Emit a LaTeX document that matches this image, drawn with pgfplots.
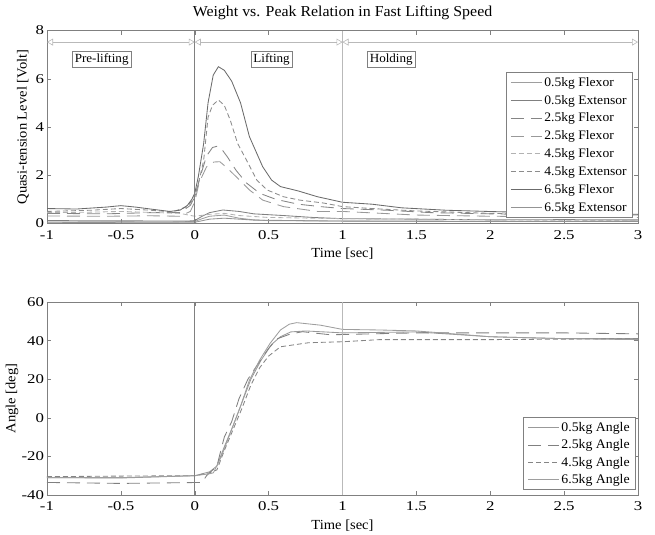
\documentclass[border=0pt]{standalone}
\usepackage{fontspec}
\setmainfont[FakeStretch=1.05]{Liberation Serif}
\newfontfamily\tickfont[FakeStretch=1.25]{Liberation Serif}
\usepackage{pgfplots}
\pgfplotsset{compat=1.18}
\usetikzlibrary{arrows.meta}
\definecolor{axc}{gray}{0.5}
\definecolor{c1}{gray}{0.62}
\definecolor{c2}{gray}{0.5}
\definecolor{c3}{gray}{0.52}
\definecolor{c4}{gray}{0.6}
\definecolor{c5}{gray}{0.7}
\definecolor{c6}{gray}{0.55}
\definecolor{c7}{gray}{0.42}
\definecolor{c8}{gray}{0.58}
\begin{document}
\begin{tikzpicture}
\pgfplotsset{
  every axis/.append style={
    scale only axis, width=591bp, height=193bp,
    xmin=-1, xmax=3,
    xtick={-1,-0.5,0,0.5,1,1.5,2,2.5,3},
    axis line style={axc, line width=0.6pt},
    tick style={axc, line width=0.5pt, major tick length=4bp},
    tick label style={font=\tickfont\fontsize{13.5}{15}\selectfont},
    /pgf/number format/assume math mode=true,
    xticklabel style={yshift=-3.5bp},
    yticklabel style={xshift=0.5bp},
    legend cell align=left,
    legend style={draw=axc, line width=0.6pt, inner xsep=4bp, inner ysep=3bp},
    legend image code/.code={\draw[##1] (0bp,0bp) -- (31bp,0bp);},
    every axis plot/.append style={line width=0.85pt, mark=none},
    xlabel={Time [sec]},
    every axis x label/.style={at={(axis description cs:0.5,-0.158)}, anchor=center, font=\fontsize{13.9}{16}\selectfont},
    every axis y label/.style={at={(axis description cs:-0.0406,0.5)}, anchor=center, rotate=90, font=\fontsize{13.9}{16}\selectfont},
  }
}
\begin{axis}[
  name=top,
  at={(0,271.5bp)},
  ymin=0, ymax=8, ytick={0,2,4,6,8},
  ylabel={Quasi-tension Level [Volt]},
  title={Weight vs. Peak Relation in Fast Lifting Speed},
  every axis title/.style={at={(axis description cs:0.5,1)}, anchor=center, yshift=18bp, font=\fontsize{15.2}{17}\selectfont},
  legend style={at={(1,0)}, anchor=south east, xshift=-5bp, yshift=5.5bp, font=\fontsize{13}{14}\selectfont, row sep=3.4bp},
]
\addplot[c1] coordinates {(-1,0.06) (-0.6,0.07) (-0.2,0.06) (0,0.08) (0.05,0.2) (0.1,0.3) (0.2,0.35) (0.3,0.22) (0.4,0.15) (0.5,0.12) (1,0.1) (1.5,0.1) (2,0.09) (3,0.1)};
\addlegendentry{0.5kg Flexor}
\addplot[c2] coordinates {(-1,0.12) (-0.5,0.11) (-0.05,0.1) (0,0.12) (0.05,0.3) (0.1,0.45) (0.19,0.56) (0.3,0.5) (0.4,0.4) (0.6,0.33) (0.8,0.25) (1,0.2) (1.5,0.18) (2,0.15) (2.5,0.16) (3,0.15)};
\addlegendentry{0.5kg Extensor}
\addplot[c3, dash pattern=on 13bp off 7bp] coordinates {(-1,0.42) (-0.6,0.4) (-0.3,0.45) (-0.1,0.45) (-0.03,0.75) (0,1.1) (0.04,2.0) (0.08,2.8) (0.12,3.15) (0.15,3.2) (0.18,3.1) (0.22,2.77) (0.28,2.2) (0.35,1.68) (0.44,1.25) (0.55,1.0) (0.7,0.8) (0.85,0.7) (1,0.62) (1.3,0.55) (1.6,0.45) (2,0.4) (2.5,0.35) (3,0.35)};
\addlegendentry{2.5kg Flexor}
\addplot[c4, dash pattern=on 13bp off 7bp] coordinates {(-1,0.31) (-0.6,0.3) (-0.3,0.32) (-0.1,0.3) (-0.03,0.5) (0,0.9) (0.03,1.7) (0.08,2.35) (0.13,2.55) (0.17,2.56) (0.22,2.3) (0.28,1.94) (0.37,1.39) (0.46,0.97) (0.6,0.7) (0.83,0.5) (1,0.5) (1.5,0.35) (2,0.3) (2.5,0.28) (3,0.25)};
\addlegendentry{2.5kg Flexor}
\addplot[c5, dash pattern=on 5bp off 3bp] coordinates {(-1,0.45) (-0.7,0.47) (-0.5,0.5) (-0.3,0.46) (-0.1,0.42) (0,0.3) (0.1,0.38) (0.2,0.42) (0.3,0.33) (0.5,0.25) (1,0.2) (1.5,0.18) (2,0.15) (3,0.12)};
\addlegendentry{4.5kg Flexor}
\addplot[c6, dash pattern=on 5bp off 3bp] coordinates {(-1,0.5) (-0.7,0.55) (-0.5,0.62) (-0.3,0.55) (-0.15,0.48) (-0.05,0.7) (0,1.1) (0.03,1.8) (0.06,2.6) (0.09,4.4) (0.12,4.9) (0.16,5.12) (0.2,4.9) (0.24,4.29) (0.29,3.32) (0.35,2.63) (0.42,1.8) (0.49,1.39) (0.6,1.11) (0.71,0.97) (0.87,0.85) (1.0,0.7) (1.2,0.62) (1.5,0.52) (2,0.42) (2.5,0.38) (3,0.35)};
\addlegendentry{4.5kg Extensor}
\addplot[c7] coordinates {(-1,0.62) (-0.8,0.6) (-0.6,0.68) (-0.5,0.74) (-0.4,0.68) (-0.3,0.6) (-0.17,0.5) (-0.1,0.55) (-0.05,0.75) (-0.02,1.0) (0,1.25) (0.024,1.94) (0.06,3.3) (0.09,5.0) (0.125,6.15) (0.16,6.5) (0.2,6.35) (0.25,5.9) (0.31,5.0) (0.37,3.6) (0.46,2.35) (0.52,1.8) (0.58,1.53) (0.7,1.35) (0.83,1.11) (1.0,0.88) (1.2,0.8) (1.4,0.65) (1.7,0.55) (2.04,0.49) (2.5,0.42) (3,0.38)};
\addlegendentry{6.5kg Flexor}
\addplot[c8] coordinates {(-1,0.03) (-0.5,0.05) (0,0.05) (0.1,0.18) (0.2,0.22) (0.4,0.14) (1,0.1) (2,0.08) (3,0.08)};
\addlegendentry{6.5kg Extensor}
\draw[axc, line width=0.8pt] (axis cs:0,0) -- (axis cs:0,8);
\draw[gray!55, line width=0.6pt] (axis cs:1,0) -- (axis cs:1,8);
\draw[gray!55, line width=0.6pt, {Triangle[open,length=6bp,width=7bp]}-{Triangle[open,length=6bp,width=7bp]}] (axis cs:-1,7.52) -- (axis cs:0,7.52);
\draw[gray!55, line width=0.6pt, {Triangle[open,length=6bp,width=7bp]}-{Triangle[open,length=6bp,width=7bp]}] (axis cs:0,7.52) -- (axis cs:1,7.52);
\draw[gray!55, line width=0.6pt, {Triangle[open,length=6bp,width=7bp]}-{Triangle[open,length=6bp,width=7bp]}] (axis cs:1,7.52) -- (axis cs:3,7.52);
\node[draw=axc, fill=white, inner sep=2.5bp, font=\fontsize{12.5}{14}\selectfont] at (axis cs:-0.63,6.8) {Pre-lifting};
\node[draw=axc, fill=white, inner sep=2.5bp, font=\fontsize{12.5}{14}\selectfont] at (axis cs:0.52,6.8) {Lifting};
\node[draw=axc, fill=white, inner sep=2.5bp, font=\fontsize{12.5}{14}\selectfont] at (axis cs:1.33,6.8) {Holding};
\end{axis}
\begin{axis}[
  name=bot,
  at={(0,0)},
  ymin=-40, ymax=60, ytick={-40,-20,0,20,40,60},
  ylabel={Angle [deg]},
  every axis y label/.style={at={(axis description cs:-0.059,0.5)}, anchor=center, rotate=90, font=\fontsize{13.9}{16}\selectfont},
  legend style={at={(1,0)}, anchor=south east, xshift=-2bp, yshift=5bp, font=\fontsize{13.2}{15}\selectfont, row sep=2.6bp},
]
\addplot[c4] coordinates {(-1,-31) (-0.5,-31.2) (0,-30) (0.1,-28) (0.15,-25) (0.2,-15) (0.26,-4) (0.32,8) (0.38,20) (0.45,30) (0.52,38) (0.58,42) (0.65,44.5) (0.75,45) (1,44) (1.5,44.5) (1.8,43) (2,42) (2.5,41) (3,41)};
\addlegendentry{0.5kg Angle}
\addplot[c2, dash pattern=on 13bp off 7bp] coordinates {(-1,-33.5) (-0.5,-34) (0.05,-33.5) (0.08,-30) (0.15,-25) (0.2,-10) (0.25,-2) (0.3,10) (0.36,20) (0.42,27) (0.5,36) (0.56,41) (0.65,43.5) (0.73,44.6) (0.92,43) (1.2,43.5) (1.5,44) (2,44) (2.5,44) (3,43.5)};
\addlegendentry{2.5kg Angle}
\addplot[c3, dash pattern=on 5bp off 3bp] coordinates {(-1,-30.5) (-0.5,-30.2) (0,-30) (0.1,-28.5) (0.15,-27) (0.2,-17) (0.26,-6) (0.32,5) (0.38,17) (0.44,26) (0.5,32) (0.58,36.8) (0.77,38.9) (1,39.4) (1.25,40.5) (2,40.5) (3,41)};
\addlegendentry{4.5kg Angle}
\addplot[c1] coordinates {(-1,-31) (-0.5,-31) (0,-30) (0.05,-29.5) (0.1,-29) (0.126,-28.5) (0.18,-20) (0.24,-8) (0.31,6) (0.37,19.5) (0.44,30) (0.51,38.6) (0.58,45.5) (0.64,48.5) (0.69,49.3) (0.85,48) (1.0,45.8) (1.25,45.5) (1.5,45) (2,42) (2.5,41) (3,40.5)};
\addlegendentry{6.5kg Angle}
\draw[axc, line width=0.8pt] (axis cs:0,-40) -- (axis cs:0,60);
\draw[gray!55, line width=0.6pt] (axis cs:1,-40) -- (axis cs:1,60);
\end{axis}
\pgfresetboundingbox
\path[use as bounding box] ([shift={(-47bp,-40bp)}]bot.south west) rectangle ([shift={(608bp,495bp)}]bot.south west);
\end{tikzpicture}
\end{document}
